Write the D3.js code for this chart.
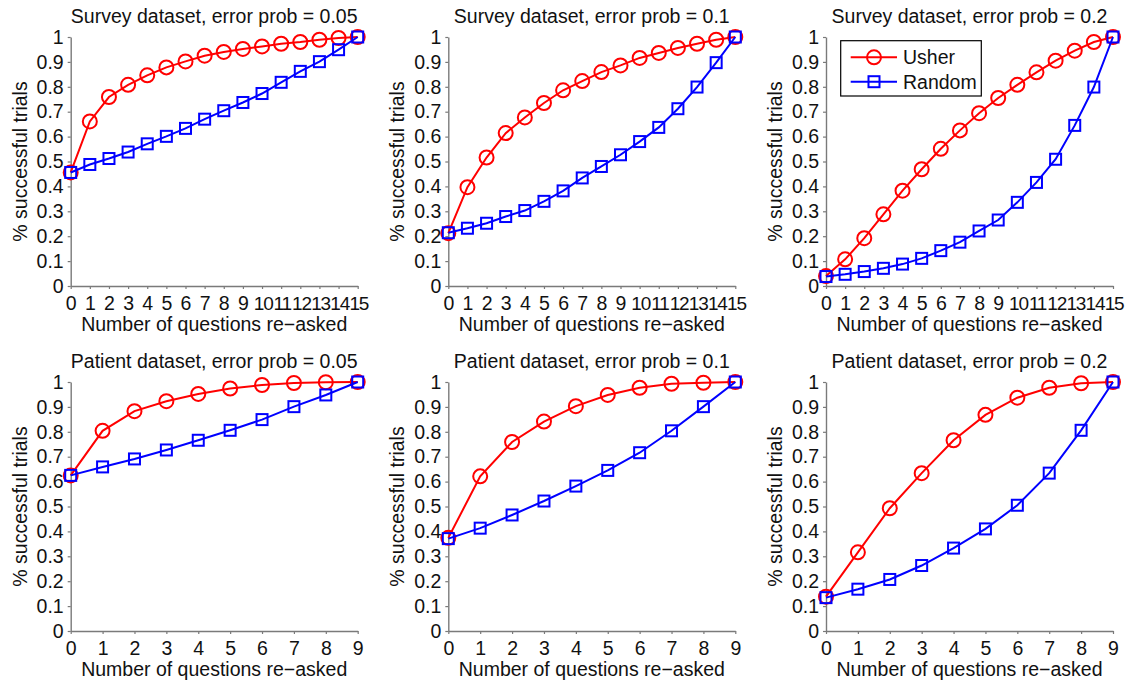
<!DOCTYPE html>
<html>
<head>
<meta charset="utf-8">
<script src="https://cdn.jsdelivr.net/npm/d3@7"></script>
<style>
  body { margin: 0; background: #fff; }
  svg text { font-family: "Liberation Sans", Arial, Helvetica, sans-serif; fill: #111; }
</style>
</head>
<body>
<svg id="chart" width="1125" height="684"></svg>
<script>
// x values (number of questions re-asked)
let questionsSurvey = [0, 1, 2, 3, 4, 5, 6, 7, 8, 9, 10, 11, 12, 13, 14, 15]
let questionsPatient = [0, 1, 2, 3, 4, 5, 6, 7, 8, 9]

let yTicks = [0, 0.1, 0.2, 0.3, 0.4, 0.5, 0.6, 0.7, 0.8, 0.9, 1]
let yTickLabels = ["0", "0.1", "0.2", "0.3", "0.4", "0.5", "0.6", "0.7", "0.8", "0.9", "1"]

let titles = [
  "Survey dataset, error prob = 0.05",
  "Survey dataset, error prob = 0.1",
  "Survey dataset, error prob = 0.2",
  "Patient dataset, error prob = 0.05",
  "Patient dataset, error prob = 0.1",
  "Patient dataset, error prob = 0.2"
]

let seriesNames = ["Usher", "Random"]

// survey dataset
let usherSurvey05 = [0.456, 0.661, 0.759, 0.808, 0.846, 0.878, 0.902, 0.925, 0.940, 0.952, 0.962, 0.973, 0.980, 0.989, 0.996, 1.0]
let randomSurvey05 = [0.456, 0.488, 0.512, 0.538, 0.571, 0.601, 0.633, 0.670, 0.704, 0.737, 0.773, 0.818, 0.862, 0.901, 0.949, 1.0]
let usherSurvey10 = [0.212, 0.397, 0.516, 0.614, 0.677, 0.735, 0.786, 0.823, 0.859, 0.886, 0.916, 0.936, 0.956, 0.973, 0.989, 1.0]
let randomSurvey10 = [0.214, 0.232, 0.252, 0.279, 0.303, 0.340, 0.382, 0.434, 0.480, 0.527, 0.580, 0.637, 0.712, 0.799, 0.897, 1.0]
let usherSurvey20 = [0.040, 0.107, 0.192, 0.288, 0.383, 0.469, 0.551, 0.625, 0.694, 0.755, 0.808, 0.858, 0.905, 0.945, 0.980, 1.0]
let randomSurvey20 = [0.038, 0.047, 0.058, 0.071, 0.088, 0.111, 0.142, 0.176, 0.221, 0.265, 0.336, 0.416, 0.509, 0.645, 0.799, 1.0]

// patient dataset
let usherPatient05 = [0.625, 0.804, 0.883, 0.923, 0.952, 0.974, 0.988, 0.996, 0.999, 1.0]
let randomPatient05 = [0.625, 0.659, 0.691, 0.727, 0.766, 0.806, 0.849, 0.901, 0.948, 1.0]
let usherPatient10 = [0.374, 0.621, 0.759, 0.841, 0.903, 0.948, 0.977, 0.993, 0.997, 1.0]
let randomPatient10 = [0.371, 0.413, 0.466, 0.522, 0.582, 0.645, 0.716, 0.804, 0.901, 1.0]
let usherPatient20 = [0.138, 0.316, 0.493, 0.634, 0.766, 0.868, 0.937, 0.977, 0.995, 1.0]
let randomPatient20 = [0.134, 0.168, 0.207, 0.263, 0.333, 0.410, 0.505, 0.634, 0.806, 1.0]

let panels = [
  {title: titles[0], xs: questionsSurvey, usher: usherSurvey05, random: randomSurvey05},
  {title: titles[1], xs: questionsSurvey, usher: usherSurvey10, random: randomSurvey10},
  {title: titles[2], xs: questionsSurvey, usher: usherSurvey20, random: randomSurvey20, legend: true},
  {title: titles[3], xs: questionsPatient, usher: usherPatient05, random: randomPatient05},
  {title: titles[4], xs: questionsPatient, usher: usherPatient10, random: randomPatient10},
  {title: titles[5], xs: questionsPatient, usher: usherPatient20, random: randomPatient20}
]

let svg = d3.select("#chart")

let
  lefts = [70.7, 448.3, 826],
  tops = [37, 382],
  plotWidth = 287,
  plotHeight = 249,
  fontSize = 19.5,
  markerR = 7,
  squareSide = 11,
  axisColor = "#7a7a7a",
  red = "#ff0000",
  blue = "#0000ff"

panels.forEach((p, i) => {
  let left = lefts[i % 3], top = tops[Math.floor(i / 3)]
  let g = svg.append("g").attr("transform", `translate(${left},${top})`)

  let x = d3.scaleLinear().domain([p.xs[0], p.xs[p.xs.length - 1]]).range([0, plotWidth])
  let y = d3.scaleLinear().domain([0, 1]).range([plotHeight, 0])

  let yAxis = g.append("g")
    .call(d3.axisLeft(y).tickValues(yTicks).tickFormat((d, k) => yTickLabels[k])
      .tickSize(3).tickSizeOuter(0).tickPadding(4))
  let xAxis = g.append("g")
    .attr("transform", `translate(0,${plotHeight})`)
    .call(d3.axisBottom(x).tickValues(p.xs).tickFormat(d3.format("d"))
      .tickSize(3).tickSizeOuter(0).tickPadding(8))

  for (let ax of [xAxis, yAxis]) {
    ax.select(".domain").attr("stroke", axisColor).attr("stroke-width", 1.4)
    ax.selectAll(".tick line").attr("stroke", axisColor).attr("stroke-width", 1.2)
    ax.selectAll("text").attr("font-size", fontSize).attr("font-family", null).attr("fill", "#111")
  }
  // two-digit labels sit shoulder to shoulder, as in the original
  xAxis.selectAll("text").attr("dy", "0.68em")
    .filter(d => d >= 10)
    .attr("font-size", 19).attr("letter-spacing", "-1.2px").attr("dx", "0.6px")

  g.append("text")
    .attr("x", plotWidth / 2).attr("y", -14)
    .attr("text-anchor", "middle").attr("font-size", fontSize)
    .text(p.title)

  g.append("text")
    .attr("x", plotWidth / 2).attr("y", plotHeight + 45)
    .attr("text-anchor", "middle").attr("font-size", fontSize)
    .text("Number of questions re\u2212asked")

  g.append("text")
    .attr("transform", `translate(-44,${plotHeight / 2}) rotate(-90)`)
    .attr("text-anchor", "middle").attr("font-size", fontSize)
    .text("% successful trials")

  let line = d3.line().x((d, k) => x(p.xs[k])).y(d => y(d))

  // Usher: red circles
  g.append("path").datum(p.usher)
    .attr("d", line).attr("fill", "none").attr("stroke", red).attr("stroke-width", 2)
  g.selectAll(".usher").data(p.usher).enter()
    .append("circle").attr("class", "usher")
    .attr("cx", (d, k) => x(p.xs[k])).attr("cy", d => y(d)).attr("r", markerR)
    .attr("fill", "none").attr("stroke", red).attr("stroke-width", 2)

  // Random: blue squares
  g.append("path").datum(p.random)
    .attr("d", line).attr("fill", "none").attr("stroke", blue).attr("stroke-width", 2)
  g.selectAll(".random").data(p.random).enter()
    .append("rect").attr("class", "random")
    .attr("x", (d, k) => x(p.xs[k]) - squareSide / 2).attr("y", d => y(d) - squareSide / 2)
    .attr("width", squareSide).attr("height", squareSide)
    .attr("fill", "none").attr("stroke", blue).attr("stroke-width", 2)

  if (p.legend) {
    let lg = g.append("g").attr("transform", "translate(14.7,3.7)")
    lg.append("rect").attr("width", 140.6).attr("height", 55.3)
      .attr("fill", "#fff").attr("stroke", "#000").attr("stroke-width", 1.2)
    seriesNames.forEach((name, k) => {
      let cy = 16.6 + k * 24.4
      let color = k === 0 ? red : blue
      lg.append("line").attr("x1", 10).attr("x2", 56.3).attr("y1", cy).attr("y2", cy)
        .attr("stroke", color).attr("stroke-width", 2)
      if (k === 0) {
        lg.append("circle").attr("cx", 33.3).attr("cy", cy).attr("r", markerR)
          .attr("fill", "none").attr("stroke", color).attr("stroke-width", 2)
      } else {
        lg.append("rect").attr("x", 33.3 - squareSide / 2).attr("y", cy - squareSide / 2)
          .attr("width", squareSide).attr("height", squareSide)
          .attr("fill", "none").attr("stroke", color).attr("stroke-width", 2)
      }
      lg.append("text").attr("x", 62.3).attr("y", cy + 7)
        .attr("font-size", fontSize).text(name)
    })
  }
})
</script>
</body>
</html>
